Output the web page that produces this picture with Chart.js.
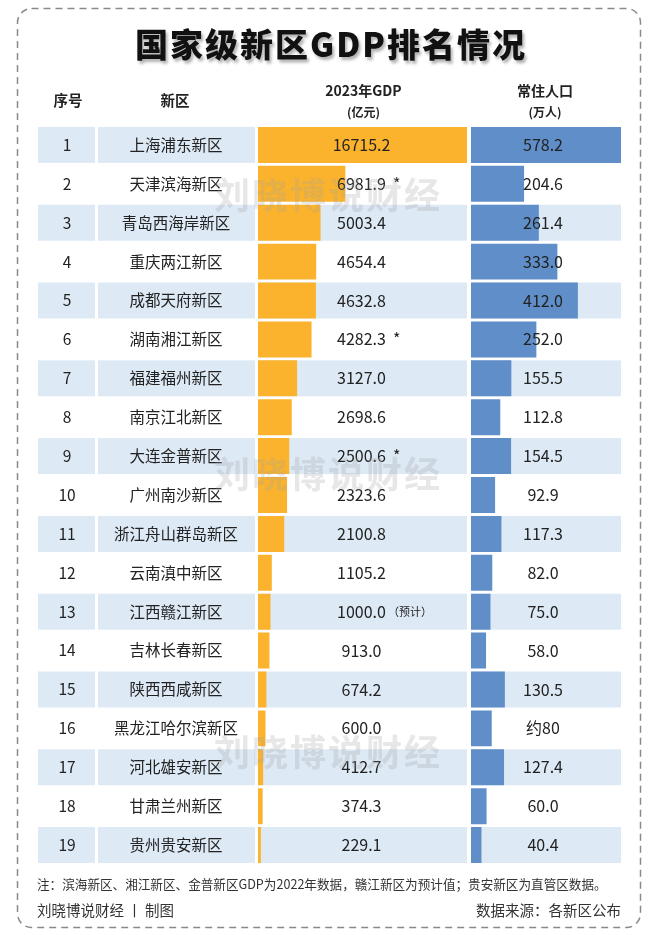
<!DOCTYPE html>
<html lang="zh-CN">
<head>
<meta charset="UTF-8">
<title>国家级新区GDP排名情况</title>
<script src="https://cdn.jsdelivr.net/npm/chart.js"></script>
<style>
  html, body { margin: 0; padding: 0; background: #fff; }
  canvas { display: block; }
</style>
</head>
<body>
<canvas id="gdp-chart" width="660" height="935"></canvas>
<script>
// 数据
const names = ['上海浦东新区', '天津滨海新区', '青岛西海岸新区', '重庆两江新区', '成都天府新区',
  '湖南湘江新区', '福建福州新区', '南京江北新区', '大连金普新区', '广州南沙新区',
  '浙江舟山群岛新区', '云南滇中新区', '江西赣江新区', '吉林长春新区', '陕西西咸新区',
  '黑龙江哈尔滨新区', '河北雄安新区', '甘肃兰州新区', '贵州贵安新区'];
const gdp = [16715.2, 6981.9, 5003.4, 4654.4, 4632.8, 4282.3, 3127.0, 2698.6, 2500.6, 2323.6,
  2100.8, 1105.2, 1000.0, 913.0, 674.2, 600.0, 412.7, 374.3, 229.1];
const gdpNotes = ['', '*', '', '', '', '*', '', '', '*', '', '', '', '（预计）', '', '', '', '', '', ''];
const population = [578.2, 204.6, 261.4, 333.0, 412.0, 252.0, 155.5, 112.8, 154.5, 92.9,
  117.3, 82.0, 75.0, 58.0, 130.5, 80, 127.4, 60.0, 40.4];
const popLabels = ['578.2', '204.6', '261.4', '333.0', '412.0', '252.0', '155.5', '112.8', '154.5', '92.9',
  '117.3', '82.0', '75.0', '58.0', '130.5', '约80', '127.4', '60.0', '40.4'];

const FONT = '"Noto Sans CJK SC", "Noto Sans", sans-serif';
const ORANGE = '#fbb32d';
const BLUE = '#5f8ec9';
const ROW_BG = '#dde9f5';

function roundRect(ctx, x, y, w, h, r) {
  ctx.beginPath();
  ctx.moveTo(x + r, y);
  ctx.lineTo(x + w - r, y);
  ctx.arcTo(x + w, y, x + w, y + r, r);
  ctx.lineTo(x + w, y + h - r);
  ctx.arcTo(x + w, y + h, x + w - r, y + h, r);
  ctx.lineTo(x + r, y + h);
  ctx.arcTo(x, y + h, x, y + h - r, r);
  ctx.lineTo(x, y + r);
  ctx.arcTo(x, y, x + r, y, r);
  ctx.closePath();
}

const tablePlugin = {
  id: 'table',
  beforeDatasetsDraw(chart) {
    const ctx = chart.ctx;
    const yScale = chart.scales.y;
    const xg = chart.scales.xGdp;
    const xp = chart.scales.xPop;
    const band = yScale.height / names.length;
    const h = band * 0.925;
    ctx.save();

    // 虚线外框
    ctx.strokeStyle = '#8a8a8a';
    ctx.lineWidth = 1.5;
    ctx.setLineDash([7, 5]);
    roundRect(ctx, 17.5, 8.5, 623, 919, 14);
    ctx.stroke();
    ctx.setLineDash([]);

    // 标题
    ctx.save();
    ctx.font = '900 33px ' + FONT;
    ctx.letterSpacing = '2px';
    ctx.textAlign = 'center';
    ctx.textBaseline = 'middle';
    ctx.shadowColor = 'rgba(0,0,0,0.3)';
    ctx.shadowOffsetX = 2;
    ctx.shadowOffsetY = 3;
    ctx.shadowBlur = 3;
    ctx.fillStyle = '#111';
    ctx.fillText('国家级新区GDP排名情况', 331, 44);
    ctx.restore();

    // 表头
    ctx.fillStyle = '#222';
    ctx.textAlign = 'center';
    ctx.textBaseline = 'middle';
    ctx.font = 'bold 14.5px ' + FONT;
    ctx.fillText('序号', 68, 100);
    ctx.fillText('新区', 175, 100);
    const gdpMid = (xg.left + xg.right) / 2;
    const popMid = (xp.left + xp.right) / 2;
    ctx.font = 'bold 14px ' + FONT;
    ctx.fillText('2023年GDP', gdpMid, 91);
    ctx.fillText('常住人口', popMid, 91);
    ctx.font = 'bold 12px ' + FONT;
    ctx.fillText('(亿元)', gdpMid, 112);
    ctx.fillText('(万人)', popMid, 112);

    // 隔行底色
    const cols = [[38, 95], [98, 255], [xg.getPixelForValue(0), xg.right - 2], [xp.getPixelForValue(0), xp.right]];
    ctx.fillStyle = ROW_BG;
    names.forEach((n, i) => {
      if (i % 2 !== 0) return;
      const y = yScale.getPixelForValue(i);
      cols.forEach(([a, b]) => ctx.fillRect(a, y - h / 2, b - a, h));
    });
    ctx.restore();
  },
  afterDatasetsDraw(chart) {
    const ctx = chart.ctx;
    const yScale = chart.scales.y;
    const xg = chart.scales.xGdp;
    const xp = chart.scales.xPop;
    const gdpMid = (xg.left + xg.right) / 2;
    const popMid = (xp.left + xp.right) / 2;
    ctx.save();
    ctx.fillStyle = '#222';
    ctx.textBaseline = 'middle';
    names.forEach((n, i) => {
      const y = yScale.getPixelForValue(i);
      ctx.textAlign = 'center';
      ctx.font = '15.5px ' + FONT;
      ctx.fillText(String(i + 1), 67, y);
      ctx.fillText(n, 176, y);
      ctx.font = '16px ' + FONT;
      const label = gdp[i].toFixed(1);
      ctx.fillText(label, gdpMid - 2, y);
      ctx.fillText(popLabels[i], popMid - 2, y);
      if (gdpNotes[i]) {
        const w = ctx.measureText(label).width;
        ctx.textAlign = 'left';
        if (gdpNotes[i] === '*') {
          ctx.font = '16px ' + FONT;
          ctx.fillText('*', gdpMid - 2 + w / 2 + 7, y);
        } else {
          ctx.font = '11px ' + FONT;
          ctx.fillText(gdpNotes[i], gdpMid - 2 + w / 2 + 2, y);
        }
      }
    });

    // 水印
    ctx.font = 'bold 36px ' + FONT;
    ctx.letterSpacing = '2px';
    ctx.textAlign = 'center';
    ctx.fillStyle = 'rgba(160,160,160,0.25)';
    [195, 474, 752].forEach(wy => ctx.fillText('刘晓博说财经', 328, wy));
    ctx.letterSpacing = '0px';

    // 注释与来源
    ctx.fillStyle = '#333';
    ctx.textAlign = 'left';
    ctx.font = '12.6px ' + FONT;
    ctx.fillText('注：滨海新区、湘江新区、金普新区GDP为2022年数据，赣江新区为预计值；贵安新区为直管区数据。', 37, 884);
    ctx.font = '14.5px ' + FONT;
    ctx.fillText('刘晓博说财经 丨 制图', 37, 910);
    ctx.textAlign = 'right';
    ctx.fillText('数据来源：各新区公布', 621, 910);
    ctx.restore();
  }
};

const ctx = document.getElementById('gdp-chart').getContext('2d');
new Chart(ctx, {
  type: 'bar',
  data: {
    labels: names,
    datasets: [{
      label: '2023年GDP(亿元)',
      data: gdp,
      xAxisID: 'xGdp',
      backgroundColor: ORANGE,
      grouped: false,
      categoryPercentage: 1,
      barPercentage: 0.925
    }, {
      label: '常住人口(万人)',
      data: population,
      xAxisID: 'xPop',
      backgroundColor: BLUE,
      grouped: false,
      categoryPercentage: 1,
      barPercentage: 0.925
    }]
  },
  options: {
    indexAxis: 'y',
    responsive: false,
    animation: false,
    devicePixelRatio: 1,
    layout: { padding: { left: 258, right: 39, top: 125.5, bottom: 70.5 } },
    plugins: { legend: { display: false }, tooltip: { enabled: false } },
    scales: {
      y: { type: 'category', display: false, offset: true },
      xGdp: {
        type: 'linear', position: 'bottom', display: false,
        stack: 'cols', stackWeight: 211, min: 0, max: 16875
      },
      xPop: {
        type: 'linear', position: 'bottom', display: false,
        stack: 'cols', stackWeight: 152, min: -7.7, max: 578.2
      }
    }
  },
  plugins: [tablePlugin]
});
</script>
</body>
</html>
